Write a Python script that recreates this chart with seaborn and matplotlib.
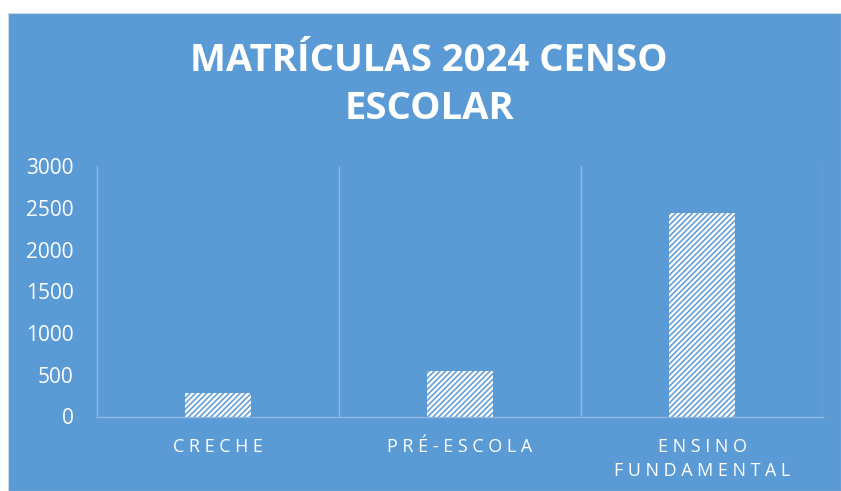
import matplotlib
matplotlib.use("Agg")
import matplotlib.pyplot as plt
import seaborn as sns
import pandas as pd
from matplotlib.patches import Rectangle

categories = ["C R E C H E", "P R É - E S C O L A", "E N S I N O\nF U N D A M E N T A L"]
values = [281, 545, 2443]
yticks = [0, 500, 1000, 1500, 2000, 2500, 3000]
title = "MATRÍCULAS 2024 CENSO\nESCOLAR"

BLUE = "#5B9BD5"
GRID = "#8DB8E3"

sns.set_theme(style="white")
plt.rcParams["font.family"] = ["Open Sans", "DejaVu Sans"]
plt.rcParams["hatch.linewidth"] = 1.1
plt.rcParams["hatch.color"] = BLUE

fig = plt.figure(figsize=(8.41, 4.91), dpi=100)
fig.patch.set_facecolor("white")
bg = Rectangle((8 / 841, 0), 1 - 8 / 841, (491 - 13) / 491, transform=fig.transFigure,
               facecolor=BLUE, edgecolor="#C9D9EA", linewidth=0.8, zorder=-10)
fig.patches.append(bg)

ax = fig.add_axes([97 / 841, (491 - 416.5) / 491, (823 - 97) / 841, (416.5 - 166) / 491])
ax.set_facecolor("none")
ax.set_zorder(1)

df = pd.DataFrame({"cat": categories, "val": values})
sns.barplot(data=df, x="cat", y="val", ax=ax, color="white", width=0.27, saturation=1)
for p in ax.patches:
    p.set_facecolor("white")
    p.set_edgecolor(BLUE)
    p.set_linewidth(0)
    p.set_hatch("//////")

ax.set_xlim(-0.5, 2.5)
ax.set_ylim(0, 3000)
ax.set_yticks(yticks)
ax.set_yticklabels([str(v) for v in yticks])
ax.set_xlabel("")
ax.set_ylabel("")
for x in [0.5, 1.5, 2.5]:
    ax.axvline(x, color=GRID, linewidth=1.0, zorder=0.5)
for s in ["top", "right"]:
    ax.spines[s].set_visible(False)
for s in ["left", "bottom"]:
    ax.spines[s].set_color(GRID)
    ax.spines[s].set_linewidth(1.0)
ax.tick_params(axis="y", length=0, pad=17, labelsize=15, labelcolor="white")
ax.tick_params(axis="x", length=0, pad=15.5, labelsize=12.9, labelcolor="white")
for lab in ax.get_xticklabels():
    lab.set_linespacing(1.45)

fig.text(429 / 841, 1 - 85 / 491, title, ha="center", va="center", color="white",
         fontsize=27.5, fontweight="bold", linespacing=1.35)

fig.savefig("out.png", dpi=100)
